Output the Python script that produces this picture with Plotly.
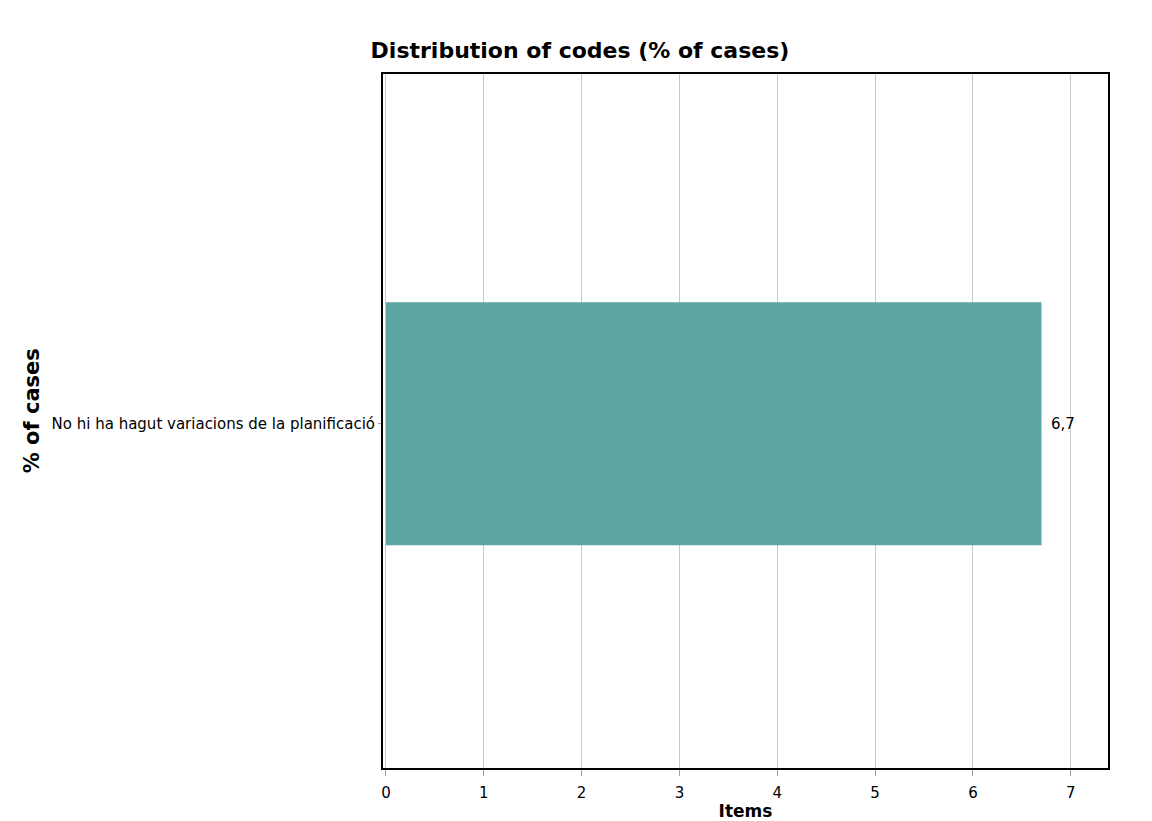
import plotly.graph_objects as go

categories = ["No hi ha hagut variacions de la planificació"]
values = [6.7]
value_labels = ["6,7"]
x_ticks = [0, 1, 2, 3, 4, 5, 6, 7]

W, H = 1144, 813          # page body adds an 8px offset
L, R, T, B = 375, 44, 66, 53

fig = go.Figure()
fig.add_trace(go.Bar(
    y=categories, x=values, orientation="h",
    marker=dict(color="#5DA5A2", line=dict(width=0)),
    hoverinfo="x+y",
))

for cat, v, lab in zip(categories, values, value_labels):
    fig.add_annotation(x=v, y=cat, text=lab, showarrow=False, xanchor="left",
                       xshift=8, font=dict(family="DejaVu Sans", size=15, color="#000000"))

fig.update_layout(
    width=W, height=H,
    paper_bgcolor="white", plot_bgcolor="white",
    margin=dict(l=L, r=R, t=T, b=B, autoexpand=False),
    bargap=0.65,
    showlegend=False,
    title=dict(text="<b>Distribution of codes (% of cases)</b>", x=(580 - 8) / W, xanchor="center",
               y=1 - (50 - 8) / H, yanchor="middle",
               font=dict(family="DejaVu Sans", size=22, color="#000000")),
    font=dict(family="DejaVu Sans", size=15, color="#000000"),
    xaxis=dict(range=[-0.03, 7.38], tickvals=x_ticks, showgrid=True, gridcolor="#C8C8C8",
               gridwidth=1, zeroline=False, ticks="outside", ticklen=6, tickcolor="#A0A0A0",
               ticklabelstandoff=4, automargin=False,
               showline=True, linecolor="#000000", linewidth=2, mirror=True,
               title=dict(text="<b>Items</b>", standoff=6,
                          font=dict(family="DejaVu Sans", size=17)),
               tickfont=dict(size=15)),
    yaxis=dict(range=[-0.496, 0.504], showgrid=False, zeroline=False, ticks="outside", ticklen=3,
               tickcolor="#A0A0A0", automargin=False,
               showline=True, linecolor="#000000", linewidth=2, mirror=True,
               tickfont=dict(size=15)),
)
fig.add_annotation(text="<b>% of cases</b>", x=-(L - (32 - 8)) / (W - L - R), xanchor="center",
                   y=0.514, xref="paper", yref="paper", showarrow=False, textangle=-90,
                   font=dict(family="DejaVu Sans", size=21, color="#000000"))

fig.write_html("out.html")
